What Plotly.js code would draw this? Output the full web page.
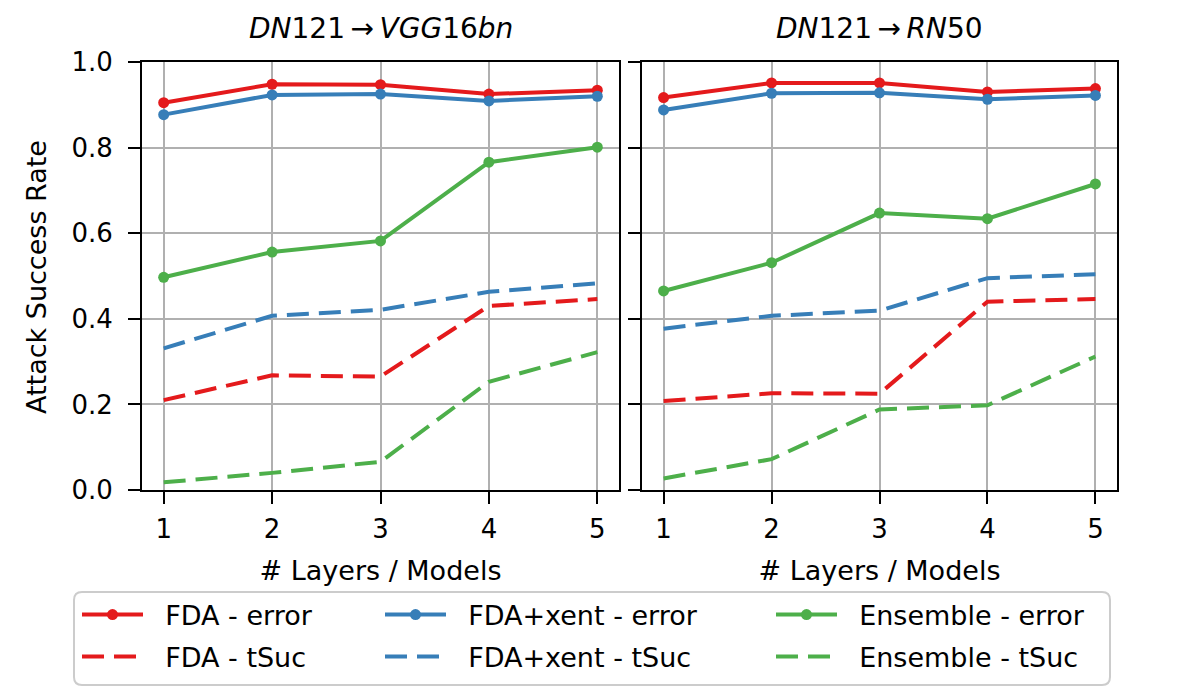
<!DOCTYPE html>
<html>
<head>
<meta charset="utf-8">
<script src="https://cdn.plot.ly/plotly-3.0.1.min.js"></script>
<style>html,body{margin:0;padding:0;background:#fff;}#chart{width:1196px;height:698px;}</style>
</head>
<body>
<div id="chart"></div>
<script>
// ---- data ----
const layers = [1, 2, 3, 4, 5];
const panelTitles = ['<i>DN</i>121\u2009\u2192\u2009<i>VGG</i>16<i>bn</i>', '<i>DN</i>121\u2009\u2192\u2009<i>RN</i>50'];
const seriesNames = ['FDA - error', 'FDA+xent - error', 'Ensemble - error', 'FDA - tSuc', 'FDA+xent - tSuc', 'Ensemble - tSuc'];
const xTitle = '# Layers / Models';
const yTitle = 'Attack Success Rate';

// left panel: DN121 -> VGG16bn
const vggFdaError = [0.905, 0.948, 0.947, 0.925, 0.934];
const vggXentError = [0.877, 0.923, 0.925, 0.909, 0.920];
const vggEnsError = [0.497, 0.556, 0.582, 0.766, 0.801];
const vggFdaTsuc = [0.210, 0.268, 0.265, 0.430, 0.446];
const vggXentTsuc = [0.331, 0.407, 0.421, 0.463, 0.483];
const vggEnsTsuc = [0.018, 0.040, 0.066, 0.253, 0.322];

// right panel: DN121 -> RN50
const rnFdaError = [0.917, 0.951, 0.951, 0.930, 0.938];
const rnXentError = [0.888, 0.927, 0.928, 0.913, 0.922];
const rnEnsError = [0.465, 0.531, 0.647, 0.634, 0.715];
const rnFdaTsuc = [0.208, 0.226, 0.225, 0.440, 0.446];
const rnXentTsuc = [0.377, 0.407, 0.419, 0.495, 0.504];
const rnEnsTsuc = [0.027, 0.072, 0.188, 0.198, 0.312];

const yTicks = [0, 0.2, 0.4, 0.6, 0.8, 1.0];
const yTickText = ['0.0', '0.2', '0.4', '0.6', '0.8', '1.0'];

// ---- styling ----
const RED = '#e41a1c', BLUE = '#377eb8', GREEN = '#4daf4a';
const colors = [RED, BLUE, GREEN, RED, BLUE, GREEN];
const FONT = 'DejaVu Sans, sans-serif';
const W = 1196, H = 698;
const M = {l: 142, r: 79, t: 62, b: 208};
const PW = W - M.l - M.r, PH = H - M.t - M.b;

const panels = [
  [vggFdaError, vggXentError, vggEnsError, vggFdaTsuc, vggXentTsuc, vggEnsTsuc],
  [rnFdaError, rnXentError, rnEnsError, rnFdaTsuc, rnXentTsuc, rnEnsTsuc]
];
const legendIds = ['legend', 'legend2', 'legend3', 'legend4', 'legend5', 'legend6'];

const traces = [];
panels.forEach((series, p) => {
  series.forEach((vals, i) => {
    const isErr = i < 3;
    traces.push({
      x: layers, y: vals,
      xaxis: p === 0 ? 'x' : 'x2',
      yaxis: p === 0 ? 'y' : 'y2',
      name: '\u00a0\u00a0' + seriesNames[i],
      type: 'scatter',
      mode: isErr ? 'lines+markers' : 'lines',
      line: {color: colors[i], width: 4, dash: isErr ? 'solid' : '22px,10px'},
      marker: {color: colors[i], size: 11},
      showlegend: p === 0,
      legend: legendIds[i],
      hoverinfo: 'x+y+name'
    });
  });
});

function px2paperX(px) { return (px - M.l) / PW; }
function px2paperY(py) { return (H - M.b - py) / PH; }

const axisCommon = {
  range: [0.8, 5.2],
  tickvals: layers,
  ticktext: layers.map(String),
  showgrid: true, gridcolor: '#b0b0b0', gridwidth: 2,
  zeroline: false,
  showline: true, linecolor: '#000', linewidth: 2, mirror: true,
  ticks: 'outside', ticklen: 12, tickwidth: 2, tickcolor: '#000',
  tickfont: {family: FONT, size: 26, color: '#000'},
  ticklabelstandoff: 3,
  title: {text: xTitle, font: {family: FONT, size: 27, color: '#000'}, standoff: 18},
  fixedrange: true
};
const yCommon = {
  range: [0, 1],
  tickvals: yTicks, ticktext: yTickText,
  showgrid: true, gridcolor: '#b0b0b0', gridwidth: 2,
  zeroline: false,
  showline: true, linecolor: '#000', linewidth: 2, mirror: true,
  ticks: 'outside', ticklen: 12, tickwidth: 2, tickcolor: '#000',
  tickfont: {family: FONT, size: 26, color: '#000'},
  ticklabelstandoff: 10,
  fixedrange: true
};

const d1 = [0, px2paperX(619)];
const d2 = [px2paperX(642), 1];

// legend placement (container coords)
const colX = [77, 380, 771];
const rowY = [615, 657];
const legendLayouts = {};
legendIds.forEach((id, i) => {
  const c = i % 3, r = Math.floor(i / 3);
  legendLayouts[id] = {
    xref: 'container', yref: 'container',
    x: colX[c] / W, y: 1 - rowY[r] / H,
    xanchor: 'left', yanchor: 'middle',
    bgcolor: 'rgba(0,0,0,0)', borderwidth: 0,
    itemwidth: 61,
    font: {family: FONT, size: 27, color: '#000'}
  };
});

// rounded legend frame
const bx0 = 74, bx1 = 1110, by0 = 592, by1 = 685, rr = 8;
function P(xp, yp) { return px2paperX(xp).toFixed(5) + ',' + px2paperY(yp).toFixed(5); }
const framePath = 'M' + P(bx0 + rr, by0) + ' L' + P(bx1 - rr, by0) + ' Q' + P(bx1, by0) + ' ' + P(bx1, by0 + rr) +
  ' L' + P(bx1, by1 - rr) + ' Q' + P(bx1, by1) + ' ' + P(bx1 - rr, by1) +
  ' L' + P(bx0 + rr, by1) + ' Q' + P(bx0, by1) + ' ' + P(bx0, by1 - rr) +
  ' L' + P(bx0, by0 + rr) + ' Q' + P(bx0, by0) + ' ' + P(bx0 + rr, by0) + ' Z';

const annotations = panelTitles.map((t, p) => ({
  text: t, xref: 'paper', yref: 'paper',
  x: p === 0 ? (d1[0] + d1[1]) / 2 : (d2[0] + d2[1]) / 2, y: 1,
  xanchor: 'center', yanchor: 'middle', yshift: 34, showarrow: false,
  font: {family: FONT, size: 28, color: '#000'}
}));
annotations.push({
  text: yTitle, xref: 'paper', yref: 'paper',
  x: px2paperX(36), y: px2paperY(277), xanchor: 'center', yanchor: 'middle',
  textangle: -90, showarrow: false,
  font: {family: FONT, size: 27, color: '#000'}
});

const layout = Object.assign({
  width: W, height: H,
  margin: Object.assign({autoexpand: false}, M),
  paper_bgcolor: '#fff', plot_bgcolor: '#fff',
  font: {family: FONT, color: '#000'},
  xaxis: Object.assign({}, axisCommon, {domain: d1, anchor: 'y'}),
  xaxis2: Object.assign({}, axisCommon, {domain: d2, anchor: 'y2'}),
  yaxis: Object.assign({}, yCommon, {domain: [0, 1], anchor: 'x'}),
  yaxis2: Object.assign({}, yCommon, {domain: [0, 1], anchor: 'x2', matches: 'y', showticklabels: false}),
  annotations: annotations,
  shapes: [{
    type: 'path', xref: 'paper', yref: 'paper', path: framePath,
    line: {color: '#cccccc', width: 2}, fillcolor: 'rgba(255,255,255,0.8)', layer: 'below'
  }],
  showlegend: true
}, legendLayouts);

Plotly.newPlot('chart', traces, layout, {displayModeBar: false, staticPlot: true});
</script>
</body>
</html>
